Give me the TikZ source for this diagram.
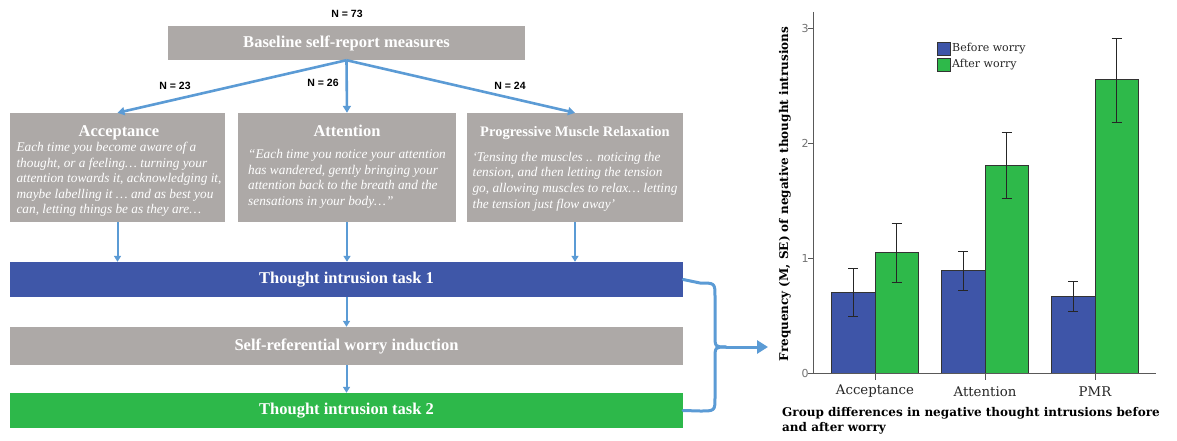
\documentclass[tikz,border=0pt]{standalone}
\usepackage{fontspec}
\setmainfont{Liberation Serif}
\newfontfamily\chartfont{DejaVu Serif}
\newfontfamily\numfont{Liberation Sans}
\newfontfamily\tickfont{DejaVu Sans}
\usetikzlibrary{arrows.meta}

\definecolor{boxgray}{RGB}{173,169,167}
\definecolor{taskblue}{RGB}{63,87,168}
\definecolor{taskgreen}{RGB}{45,184,74}
\definecolor{flowblue}{RGB}{91,155,213}
\definecolor{barblue}{RGB}{62,85,168}
\definecolor{bargreen}{RGB}{46,185,74}

\newcommand{\mhead}[1]{{\fontsize{16.5}{18}\selectfont\bfseries\upshape #1}}

\tikzset{
  box/.style={fill=boxgray, text=white, inner sep=0pt,
    font=\fontsize{16.5}{18}\selectfont\bfseries},
  method/.style={box, minimum height=109},
  mtext/.style={anchor=north, inner sep=0pt, text=white, align=center,
    font=\fontsize{13.3}{15.6}\selectfont\itshape},
  task/.style={box, minimum width=673, minimum height=35},
  count/.style={font=\numfont\bfseries\fontsize{10.5}{12}\selectfont},
  flow/.style={draw=flowblue, line width=2, -{Triangle[length=6pt,width=7pt]}},
  branch/.style={flow, line width=2.6, -{Triangle[length=7pt,width=8pt]}},
  brace/.style={draw=flowblue, line width=3, line cap=round, line join=round},
  link/.style={brace, line cap=butt, -{Triangle[length=11pt,width=13pt]}},
  bar/.style={draw=black!80, line width=0.6},
  err/.style={draw=black!85, line width=0.8},
  axis/.style={draw=black!65, line width=0.8},
  cat/.style={font=\chartfont\fontsize{13.3}{15}\selectfont, text=black!85},
  tick/.style={font=\tickfont\fontsize{11}{12}\selectfont, text=black!55},
  legend/.style={cat, anchor=west, inner sep=2pt,
    font=\chartfont\fontsize{11}{12}\selectfont},
  chartbold/.style={font=\chartfont\bfseries\fontsize{12}{15}\selectfont}
}

\begin{document}
\begin{tikzpicture}[x=1pt, y=-1pt]
  \useasboundingbox[fill=white] (0,0) rectangle (1177,441);

  % flow chart
  \node[count] (n73) at (347,14) {N = 73};
  \node[box, minimum width=357, minimum height=34] (base) at (346.5,43)
    {Baseline self-report measures};

  \node[method, minimum width=215] (acc) at (117.5,167.5) {};
  \node[method, minimum width=218] (att) at (347,167.5) {};
  \node[method, minimum width=216] (pmr) at (575,167.5) {};

  \node[mtext] (accq) at (119,125)
    {\mhead{Acceptance}\\[0pt]
     \begin{tabular}{@{}l@{}}
     Each time you become aware of a\\
     thought, or a feeling… turning your\\
     attention towards it, acknowledging it,\\
     maybe labelling it … and as best you\\
     can, letting things be as they are…
     \end{tabular}};
  \node[mtext] (attq) at (347,125)
    {\mhead{Attention}\\[10pt]
     \begin{tabular}{@{}l@{}}
     “Each time you notice your attention\\
     has wandered, gently bringing your\\
     attention back to the breath and the\\
     sensations in your body…”
     \end{tabular}};
  \node[mtext] (pmrq) at (575,126)
    {{\fontsize{14.5}{16}\selectfont\bfseries\upshape Progressive Muscle Relaxation}\\[10pt]
     \begin{tabular}{@{}l@{}}
     ‘Tensing the muscles .. noticing the\\
     tension, and then letting the tension\\
     go, allowing muscles to relax… letting\\
     the tension just flow away’
     \end{tabular}};

  \node[count] (n23) at (175,86) {N = 23};
  \node[count] (n26) at (323,83) {N = 26};
  \node[count] (n24) at (510,86) {N = 24};

  \node[task, fill=taskblue] (t1) at (346.5,279.5) {Thought intrusion task 1};
  \node[task, minimum height=38] (wor) at (346.5,346) {Self-referential worry induction};
  \node[task, fill=taskgreen] (t2) at (346.5,410.5) {Thought intrusion task 2};

  \draw[branch] (base.south) -- (acc.north);
  \draw[branch] (base.south) -- (att.north);
  \draw[branch] (base.south) -- (pmr.north);
  \draw[flow] (acc.south) -- (acc.south |- t1.north);
  \draw[flow] (att.south) -- (att.south |- t1.north);
  \draw[flow] (pmr.south) -- (pmr.south |- t1.north);
  \draw[flow] (t1.south) -- (wor.north);
  \draw[flow] (wor.south) -- (t2.north);

  % brace to the chart
  \coordinate (tip) at (726,347);
  \coordinate (chart) at (768,347);
  \draw[brace] (t1.east) -- (700,283) .. controls (715,283) .. (715,297)
    -- (715,335) .. controls (715,347) .. (tip);
  \draw[brace] (t2.east) -- (700,411) .. controls (715,411) .. (715,397)
    -- (715,359) .. controls (715,347) .. (tip);
  \draw[link] (tip) -- (chart);

  % bar chart
  \begin{scope}[shift={(813,373)}, yscale=-115]
    \foreach \c/\b/\bl/\bh/\a/\al/\ah in
      {62/0.70/0.49/0.91/1.05/0.79/1.30,
       172/0.89/0.72/1.06/1.81/1.52/2.09,
       282/0.67/0.54/0.80/2.55/2.18/2.91}{
      \draw[bar, fill=barblue] (\c-44,0) rectangle (\c,\b);
      \draw[bar, fill=bargreen] (\c,0) rectangle (\c+43,\a);
      \draw[err] (\c-22,\bl) -- (\c-22,\bh)
        (\c-27,\bl) -- (\c-17,\bl) (\c-27,\bh) -- (\c-17,\bh);
      \draw[err] (\c+21.5,\al) -- (\c+21.5,\ah)
        (\c+16.5,\al) -- (\c+26.5,\al) (\c+16.5,\ah) -- (\c+26.5,\ah);
      \draw[axis] (\c,0) -- (\c,-0.06);
    }
    \draw[axis] (0,3.14) -- (0,0) -- (343,0);
    \foreach \v in {0,...,3}
      \draw[axis] (-5,\v) -- (0,\v) node[tick, anchor=east, inner sep=1pt, xshift=-3pt] {\v};
    \node[cat] (accl) at (62,-0.16) {Acceptance};
    \node[cat] (attl) at (172,-0.16) {Attention};
    \node[cat] (pmrl) at (282,-0.16) {PMR};
  \end{scope}

  \node[chartbold, rotate=90] (ylab) at (785,194)
    {Frequency (M, SE) of negative thought intrusions};

  \draw[bar, fill=barblue] (937,42) rectangle (950,55);
  \draw[bar, fill=bargreen] (937,58) rectangle (950,71);
  \node[legend] (befl) at (950,49) {Before worry};
  \node[legend] (aftl) at (950,65) {After worry};

  \node[chartbold, anchor=north west, align=left, inner sep=0pt] (capt) at (782,407)
    {Group differences in negative thought intrusions before\\and after worry};
\end{tikzpicture}
\end{document}
